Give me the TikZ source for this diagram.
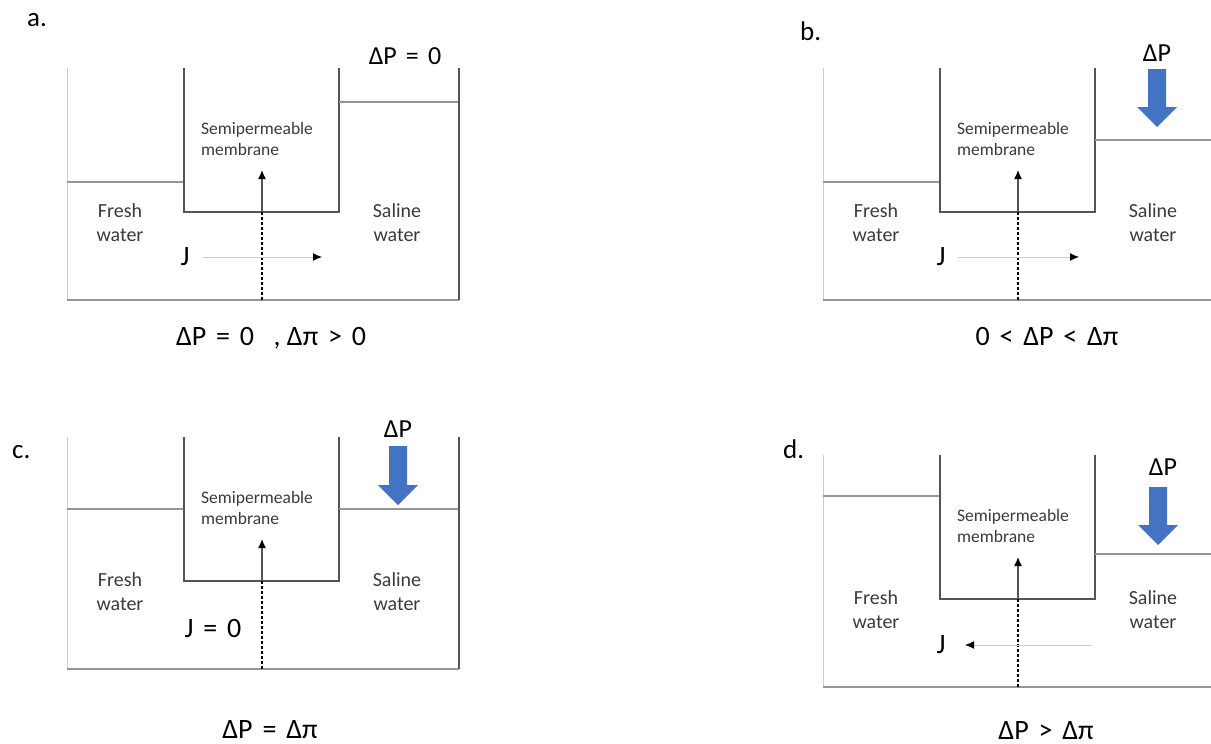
\documentclass[tikz,border=0pt]{standalone}
\usepackage{fontspec}
\setmainfont{Carlito}
\usetikzlibrary{arrows.meta}
\definecolor{lite}{RGB}{205,205,205}
\definecolor{midg}{RGB}{150,150,150}
\definecolor{darkg}{RGB}{85,85,85}
\definecolor{pblue}{RGB}{68,114,196}
\tikzset{
  wallthin/.style={draw=lite,line width=1pt},
  levelline/.style={draw=midg,line width=1.2pt},
  wallthick/.style={draw=darkg,line width=1.6pt},
  memtext/.style={font=\fontsize{17.5}{21}\selectfont,align=left,anchor=west,inner sep=0pt,text=darkg!70!black},
  watertext/.style={font=\fontsize{20}{24}\selectfont,align=center,inner sep=0pt,text=darkg!70!black},
  jtext/.style={font=\fontsize{28}{30}\selectfont,inner sep=0pt},
  bigtext/.style={font=\fontsize{26}{30}\selectfont,inner sep=0pt},
  captext/.style={font=\fontsize{28}{30}\selectfont,inner sep=0pt,anchor=base},
  paneltag/.style={font=\fontsize{27}{30}\selectfont,inner sep=0pt,anchor=base west},
  fluxup/.style={draw=darkg,line width=1.3pt,-{Latex[length=9pt,width=8pt,color=black]}},
  fluxdash/.style={draw=black,line width=1.4pt,dash pattern=on 3pt off 2pt},
  jarrow/.style={draw=lite,line width=1pt,-{Latex[length=9pt,width=8pt,color=black]}},
  pfill/.style={fill=pblue}
}
\newcommand{\gapsp}{\hspace{0.35em}}
\newcommand{\tankbase}[2]{% fresh level, saline level (relative)
  \draw[wallthin] (67,0) -- (67,232);
  \draw[levelline] (67,232) -- (459,232);
  \draw[levelline] (67,#1) -- (184,#1);
  \draw[wallthick] (184,0) -- (184,144) -- (339,144) -- (339,0);
  \draw[levelline] (339,#2) -- (459,#2);
  \draw[wallthick] (459,0) -- (459,232);
  \node[memtext] (mem) at (201,71) {Semipermeable\\membrane};
  \node[watertext] (fresh) at (120,155) {Fresh\\water};
  \node[watertext] (saline) at (397,155) {Saline\\water};
  \coordinate (mb) at (262,144);
  \coordinate (mtip) at (262,102);
  \coordinate (mbot) at (262,232);
  \draw[fluxup] (mb) -- (mtip);
  \draw[fluxdash] (mb) -- (mbot);
}
\newcommand{\pushdown}[4]{% x, shaft top, head start, tip
  \fill[pfill] (#1-9,#2) -- (#1+9,#2) -- (#1+9,#3) -- (#1+20,#3) -- (#1,#4) -- (#1-20,#3) -- (#1-9,#3) -- cycle;
}
\begin{document}
\begin{tikzpicture}[x=1pt,y=-1pt]
\useasboundingbox[fill=white] (0,0) rectangle (1211,744);

% ---------- panel a ----------
\node[paneltag] (taga) at (27,27) {a.};
\begin{scope}[shift={(0,68)},name prefix=a-]
  \tankbase{114}{34}
  \node[jtext] (J) at (185,189) {J};
  \coordinate (js) at (203,189);
  \coordinate (je) at (322,189);
  \draw[jarrow] (js) -- (je);
  \node[bigtext,anchor=base] (dp) at (405,-4) {ΔP\gapsp=\gapsp0};
\end{scope}
\node[captext] (capa) at (271,345) {ΔP\gapsp=\gapsp0\gapsp\gapsp, Δπ\gapsp>\gapsp0};

% ---------- panel b ----------
\node[paneltag] (tagb) at (800,40) {b.};
\begin{scope}[shift={(756,68)},name prefix=b-]
  \tankbase{114}{72}
  \node[jtext] (J) at (185,189) {J};
  \coordinate (js) at (202,189);
  \coordinate (je) at (323,189);
  \draw[jarrow] (js) -- (je);
  \node[bigtext,anchor=base] (dp) at (401,-7) {ΔP};
  \pushdown{401}{1}{39}{59}
\end{scope}
\node[captext] (capb) at (1047,345) {0\gapsp<\gapsp ΔP\gapsp<\gapsp Δπ};

% ---------- panel c ----------
\node[paneltag] (tagc) at (12,458) {c.};
\begin{scope}[shift={(0,437)},name prefix=c-]
  \tankbase{72}{72}
  \node[jtext] (J) at (213,192) {J\gapsp=\gapsp0};
  \node[bigtext,anchor=base] (dp) at (398,0) {ΔP};
  \pushdown{398}{9}{48}{68}
\end{scope}
\node[captext] (capc) at (270,738) {ΔP\gapsp=\gapsp Δπ};

% ---------- panel d ----------
\node[paneltag] (tagd) at (783,458) {d.};
\begin{scope}[shift={(756,455)},name prefix=d-]
  \tankbase{41}{99}
  \node[jtext] (J) at (185,190) {J};
  \coordinate (js) at (336,190);
  \coordinate (je) at (209,190);
  \draw[jarrow] (js) -- (je);
  \node[bigtext,anchor=base] (dp) at (407,20) {ΔP};
  \pushdown{402}{32}{70}{90}
\end{scope}
\node[captext] (capd) at (1046,739) {ΔP\gapsp>\gapsp Δπ};
\end{tikzpicture}
\end{document}
